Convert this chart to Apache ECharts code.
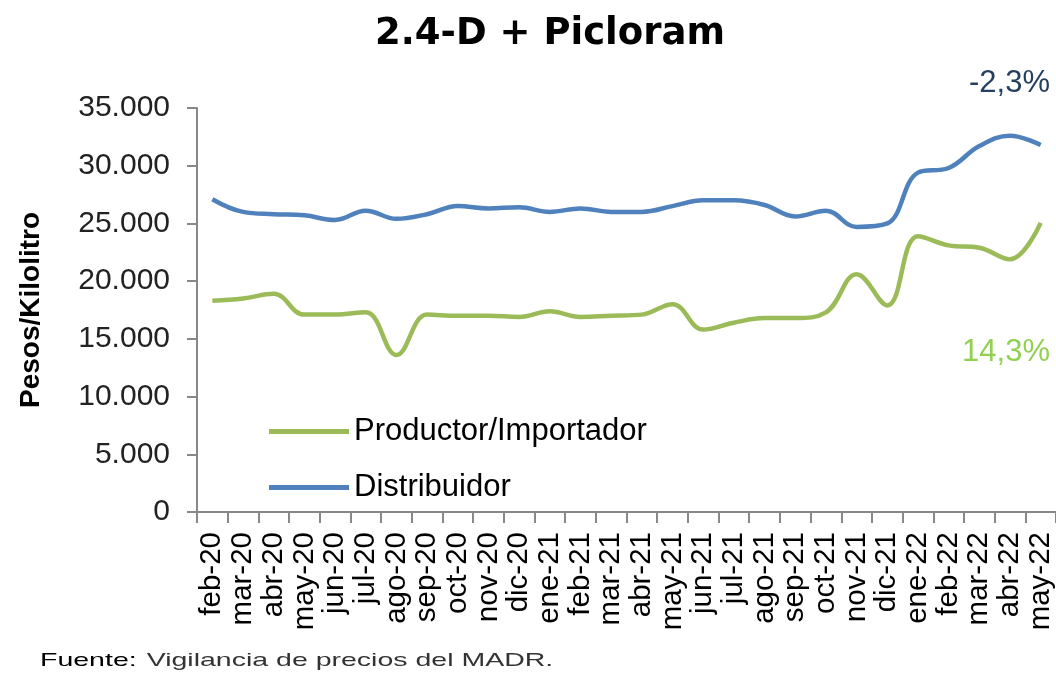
<!DOCTYPE html>
<html>
<head>
<meta charset="utf-8">
<script src="https://cdn.jsdelivr.net/npm/echarts@6/dist/echarts.min.js"></script>
<style>
  html, body { margin: 0; padding: 0; background: #fff; }
  #chart { width: 1056px; height: 684px; }
</style>
</head>
<body>
<div id="chart"></div>
<script>
// months, feb-20 .. may-22
var months = ['feb-20','mar-20','abr-20','may-20','jun-20','jul-20','ago-20','sep-20','oct-20','nov-20','dic-20',
  'ene-21','feb-21','mar-21','abr-21','may-21','jun-21','jul-21','ago-21','sep-21','oct-21','nov-21','dic-21',
  'ene-22','feb-22','mar-22','abr-22','may-22'];

// Pesos/Kilolitro
var productor = [18300, 18500, 18900, 17100, 17100, 17300, 13600, 17100, 17000, 17000, 16900,
  17400, 16900, 17000, 17100, 18000, 15800, 16400, 16800, 16800, 17300, 20600, 17900,
  23900, 23100, 22900, 21900, 25050];
var distribuidor = [27100, 26000, 25800, 25700, 25300, 26100, 25400, 25800, 26500, 26300, 26400,
  26000, 26300, 26000, 26000, 26500, 27000, 27000, 26600, 25600, 26100, 24700, 25000,
  29400, 29800, 31700, 32600, 31800];

var yTicks = [0, 5000, 10000, 15000, 20000, 25000, 30000, 35000];

var font = '"Liberation Sans", Arial, sans-serif';

// 35000 -> "35.000"
function fmt(v) {
  return String(v).replace(/\B(?=(\d{3})+(?!\d))/g, '.');
}

var chartDom = document.getElementById('chart');
var myChart = echarts.init(chartDom);
var option;

option = {
  animation: false,
  title: {
    text: '2.4-D + Picloram',
    left: 370,
    top: 11,
    textStyle: {
      fontFamily: '"DejaVu Sans", sans-serif',
      fontWeight: 'bold',
      fontSize: 37,
      color: '#000'
    }
  },
  legend: {
    orient: 'vertical',
    left: 264,
    top: 409,
    icon: 'rect',
    itemWidth: 80,
    itemHeight: 5,
    itemGap: 21,
    textStyle: {
      fontFamily: font,
      fontSize: 31,
      color: '#000',
      lineHeight: 35
    },
    data: ['Productor/Importador', 'Distribuidor']
  },
  grid: {
    left: 197,
    right: 0,
    top: 108,
    bottom: 172,
    containLabel: false
  },
  xAxis: {
    type: 'category',
    data: months,
    boundaryGap: true,
    axisLine: { lineStyle: { color: '#888', width: 2 } },
    axisTick: { show: true, length: 11, lineStyle: { color: '#888', width: 2 } },
    axisLabel: {
      interval: 0,
      rotate: 90,
      margin: 20,
      fontFamily: font,
      fontSize: 29.5,
      color: '#000'
    }
  },
  yAxis: {
    type: 'value',
    min: yTicks[0],
    max: yTicks[yTicks.length - 1],
    interval: 5000,
    name: 'Pesos/Kilolitro',
    nameLocation: 'middle',
    nameGap: 152,
    nameTextStyle: {
      fontFamily: font,
      fontWeight: 'bold',
      fontSize: 28,
      color: '#000'
    },
    splitLine: { show: false },
    axisLine: { show: true, lineStyle: { color: '#888', width: 2 } },
    axisTick: { show: true, length: 10, lineStyle: { color: '#888', width: 2 } },
    axisLabel: {
      margin: 27,
      fontFamily: font,
      fontSize: 30,
      color: '#222',
      formatter: function (v) { return fmt(v); }
    }
  },
  series: [
    {
      name: 'Productor/Importador',
      type: 'line',
      data: productor,
      smooth: 0.4,
      symbol: 'none',
      color: '#9BBB59',
      lineStyle: { width: 4.5, color: '#9BBB59' }
    },
    {
      name: 'Distribuidor',
      type: 'line',
      data: distribuidor,
      smooth: 0.4,
      symbol: 'none',
      color: '#4F81BD',
      lineStyle: { width: 4.5, color: '#4F81BD' }
    }
  ],
  graphic: [
    {
      type: 'text',
      right: 6,
      top: 68,
      style: {
        text: '-2,3%',
        fontFamily: font,
        fontSize: 31,
        fill: '#243F60'
      }
    },
    {
      type: 'text',
      right: 6,
      top: 337,
      style: {
        text: '14,3%',
        fontFamily: font,
        fontSize: 31,
        fill: '#92D050'
      }
    },
    {
      type: 'text',
      left: 40,
      top: 651,
      scaleX: 1.5,
      style: {
        text: '{b|Fuente:}  {n|Vigilancia de precios del MADR.}',
        rich: {
          b: { fontFamily: font, fontSize: 19, fill: '#000' },
          n: { fontFamily: font, fontSize: 19, fill: '#333' }
        }
      }
    }
  ]
};

option && myChart.setOption(option);
</script>
</body>
</html>
